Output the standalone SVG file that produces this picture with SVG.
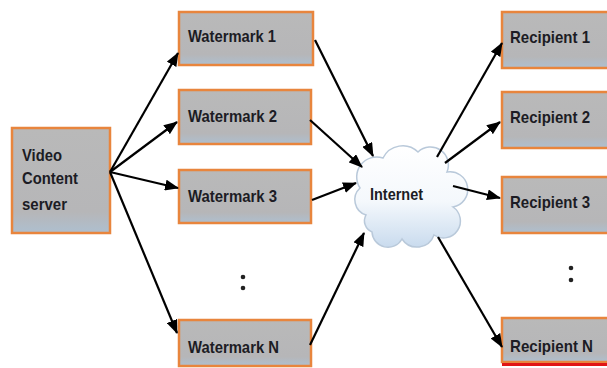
<svg xmlns="http://www.w3.org/2000/svg" width="607" height="368" viewBox="0 0 607 368">
<defs>
<linearGradient id="boxg" x1="0" y1="0" x2="0" y2="1">
<stop offset="0" stop-color="#b9b9b9"/>
<stop offset="0.8" stop-color="#b6b6b8"/>
<stop offset="1" stop-color="#aebfcf"/>
</linearGradient>
<linearGradient id="cloudg" x1="0" y1="0" x2="0" y2="1">
<stop offset="0" stop-color="#ffffff"/>
<stop offset="0.55" stop-color="#f4f8fc"/>
<stop offset="1" stop-color="#c9dbee"/>
</linearGradient>
<marker id="ah" viewBox="0 0 14 11" refX="13" refY="5.5" markerWidth="14" markerHeight="11" markerUnits="userSpaceOnUse" orient="auto">
<path d="M0,0 L14,5.5 L0,11 Z" fill="#000"/>
</marker>
</defs>
<style>
.box{fill:url(#boxg);stroke:#e8853d;stroke-width:2.5}
.lbl{font-family:"Liberation Sans",Arial,sans-serif;font-weight:bold;font-size:17px;fill:#1c1c24}
.con{stroke:#000;stroke-width:2.2;fill:none;marker-end:url(#ah)}
.dot{fill:#222}
</style>
<rect width="607" height="368" fill="#ffffff"/>
<g id="server">
<rect class="box" x="12" y="128" width="98" height="105"/>
<text class="lbl" x="22" y="161" textLength="40" lengthAdjust="spacingAndGlyphs">Video</text>
<text class="lbl" x="22" y="184" textLength="56" lengthAdjust="spacingAndGlyphs">Content</text>
<text class="lbl" x="22" y="210" textLength="45" lengthAdjust="spacingAndGlyphs">server</text>
</g>
<g id="wm1">
<rect class="box" x="179" y="12" width="134" height="53"/>
<text class="lbl" x="188" y="42" textLength="88" lengthAdjust="spacingAndGlyphs">Watermark 1</text>
</g>
<g id="wm2">
<rect class="box" x="179" y="90" width="132" height="54"/>
<text class="lbl" x="188" y="122" textLength="89" lengthAdjust="spacingAndGlyphs">Watermark 2</text>
</g>
<g id="wm3">
<rect class="box" x="179" y="170" width="132" height="53"/>
<text class="lbl" x="188" y="202" textLength="89" lengthAdjust="spacingAndGlyphs">Watermark 3</text>
</g>
<g id="wmN">
<rect class="box" x="179" y="320" width="132" height="46"/>
<text class="lbl" x="188" y="353" textLength="91" lengthAdjust="spacingAndGlyphs">Watermark N</text>
</g>
<g id="dots-left">
<circle class="dot" cx="243" cy="277" r="2.3"/>
<circle class="dot" cx="243" cy="288" r="2.3"/>
</g>
<g id="internet">
<path d="M366,215 A16,16 0 0 1 360,188 A20,20 0 0 1 383,158 A22,22 0 0 1 418,152 A18,18 0 0 1 447,172 A16,16 0 0 1 453,207 A16,16 0 0 1 434,235 A18,18 0 0 1 402,239 A16,16 0 0 1 372,232 A12,12 0 0 1 366,215 Z" fill="url(#cloudg)" stroke="#b9c9da" stroke-width="1.5"/>
<text class="lbl" x="370" y="200" textLength="53" lengthAdjust="spacingAndGlyphs" font-size="17">Internet</text>
</g>
<g id="r1">
<rect class="box" x="502" y="12" width="110" height="56"/>
<text class="lbl" x="510" y="43" textLength="80" lengthAdjust="spacingAndGlyphs">Recipient 1</text>
</g>
<g id="r2">
<rect class="box" x="502" y="92" width="110" height="56"/>
<text class="lbl" x="510" y="123" textLength="80" lengthAdjust="spacingAndGlyphs">Recipient 2</text>
</g>
<g id="r3">
<rect class="box" x="502" y="177" width="110" height="56"/>
<text class="lbl" x="510" y="208" textLength="80" lengthAdjust="spacingAndGlyphs">Recipient 3</text>
</g>
<g id="rN">
<rect class="box" x="502" y="318" width="110" height="44"/>
<line x1="502" y1="364.5" x2="607" y2="364.5" stroke="#e01515" stroke-width="3"/>
<text class="lbl" x="510" y="352" textLength="83" lengthAdjust="spacingAndGlyphs">Recipient N</text>
</g>
<g id="dots-right">
<circle class="dot" cx="571" cy="268" r="2.3"/>
<circle class="dot" cx="571" cy="280" r="2.3"/>
</g>
<g id="connectors">
<line class="con" x1="110" y1="172" x2="178" y2="53"/>
<line class="con" x1="110" y1="172" x2="177" y2="122"/>
<line class="con" x1="110" y1="172" x2="178" y2="188"/>
<line class="con" x1="110" y1="172" x2="177" y2="333"/>
<line class="con" x1="315" y1="40" x2="373" y2="156"/>
<line class="con" x1="310" y1="120" x2="362" y2="167"/>
<line class="con" x1="312" y1="200" x2="356" y2="183"/>
<line class="con" x1="310" y1="345" x2="364" y2="233"/>
<line class="con" x1="437" y1="157" x2="502" y2="43"/>
<line class="con" x1="445" y1="163" x2="500" y2="122"/>
<line class="con" x1="453" y1="186" x2="500" y2="198"/>
<line class="con" x1="438" y1="237" x2="502" y2="347"/>
</g>
</svg>
